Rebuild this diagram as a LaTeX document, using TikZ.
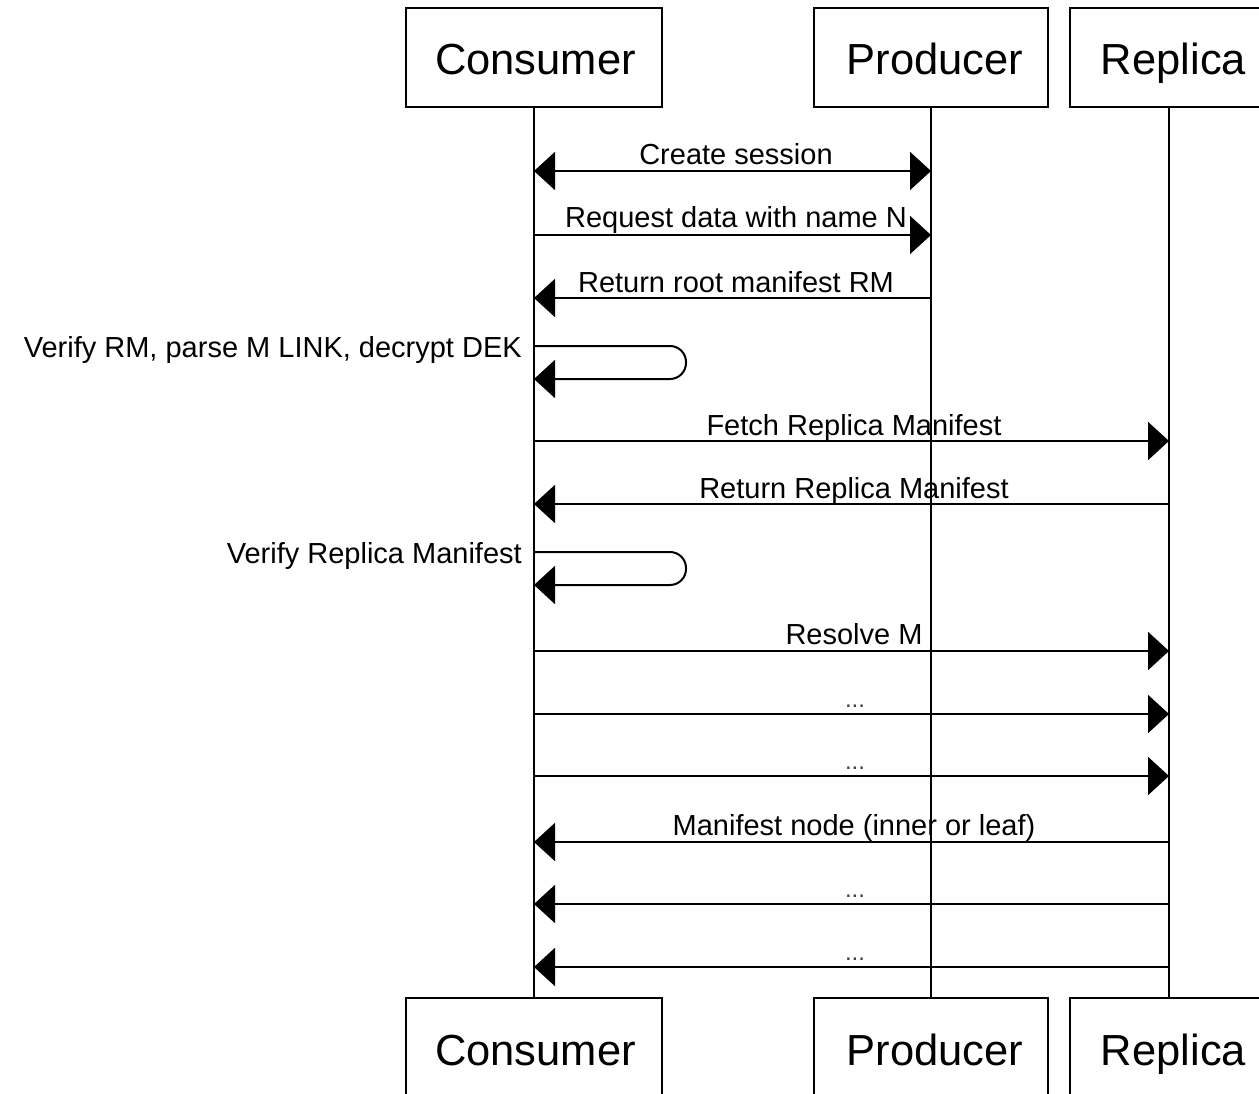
\documentclass[tikz,border=0pt]{standalone}
\usepackage{fontspec}
\setmainfont{Liberation Sans}
\usetikzlibrary{arrows.meta}
\begin{document}
\begin{tikzpicture}[x=1pt,y=-1pt,
  actor/.style={draw, line width=2pt, minimum height=99pt, inner sep=0pt, text height=35pt, text depth=0pt, font=\fontsize{43.5}{50}\selectfont},
  life/.style={line width=2pt},
  msg/.style={line width=2pt, -{Triangle[length=21pt,width=38pt]}},
  dmsg/.style={line width=2pt, {Triangle[length=21pt,width=38pt]}-{Triangle[length=21pt,width=38pt]}},
  lbl/.style={font=\fontsize{29}{32}\selectfont, anchor=base, inner sep=0pt},
  dots/.style={font=\fontsize{24}{28}\selectfont, anchor=base, inner sep=0pt, text=black!75},
  slbl/.style={font=\fontsize{29}{32}\selectfont, anchor=base east, inner sep=0pt},
]
\useasboundingbox[fill=white] (0,0) rectangle (1259,1094);
% actors
\node[actor, minimum width=256pt] (ct) at (534,57.5) {\hspace*{3pt}Consumer};
\node[actor, minimum width=234pt] (pt) at (931,57.5) {\hspace*{8pt}Producer};
\node[actor, minimum width=198pt] (rt) at (1169,57.5) {\hspace*{9pt}Replica};
\node[actor, minimum width=256pt] (cb) at (534,1047.5) {\hspace*{3pt}Consumer};
\node[actor, minimum width=234pt] (pb) at (931,1047.5) {\hspace*{8pt}Producer};
\node[actor, minimum width=198pt] (rb) at (1169,1047.5) {\hspace*{9pt}Replica};
% lifelines
\draw[life] (ct.south) -- (cb.north);
\draw[life] (pt.south) -- (pb.north);
\draw[life] (rt.south) -- (rb.north);
% message end points
\coordinate (c1) at (534,171); \coordinate (p1) at (931,171);
\coordinate (c2) at (534,235); \coordinate (p2) at (931,235);
\coordinate (c3) at (534,298); \coordinate (p3) at (931,298);
\coordinate (s1a) at (534,346); \coordinate (s1b) at (534,379);
\coordinate (c5) at (534,441); \coordinate (r5) at (1169,441);
\coordinate (c6) at (534,504); \coordinate (r6) at (1169,504);
\coordinate (s2a) at (534,552); \coordinate (s2b) at (534,585);
\coordinate (c8) at (534,651); \coordinate (r8) at (1169,651);
\coordinate (c9) at (534,714); \coordinate (r9) at (1169,714);
\coordinate (c10) at (534,776); \coordinate (r10) at (1169,776);
\coordinate (c11) at (534,842); \coordinate (r11) at (1169,842);
\coordinate (c12) at (534,904); \coordinate (r12) at (1169,904);
\coordinate (c13) at (534,967); \coordinate (r13) at (1169,967);
% messages
\draw[dmsg] (c1) -- (p1);
\node[lbl] (l1) at (736,165) {Create session};
\draw[msg] (c2) -- (p2);
\node[lbl] (l2) at (736,228) {Request data with name N};
\draw[msg] (p3) -- (c3);
\node[lbl] (l3) at (736,292) {Return root manifest RM};
\draw[msg, rounded corners=16pt] (s1a) -- (686,346) -- (686,379) -- (s1b);
\node[slbl] (l4) at (522,357) {Verify RM, parse M LINK, decrypt DEK};
\draw[msg] (c5) -- (r5);
\node[lbl] (l5) at (854,435) {Fetch Replica Manifest};
\draw[msg] (r6) -- (c6);
\node[lbl] (l6) at (854,498) {Return Replica Manifest};
\draw[msg, rounded corners=16pt] (s2a) -- (686,552) -- (686,585) -- (s2b);
\node[slbl] (l7) at (522,563) {Verify Replica Manifest};
\draw[msg] (c8) -- (r8);
\node[lbl] (l8) at (854,644) {Resolve M};
\draw[msg] (c9) -- (r9);
\node[dots] (l9) at (855,707) {...};
\draw[msg] (c10) -- (r10);
\node[dots] (l10) at (855,769) {...};
\draw[msg] (r11) -- (c11);
\node[lbl] (l11) at (854,835) {Manifest node (inner or leaf)};
\draw[msg] (r12) -- (c12);
\node[dots] (l12) at (855,897) {...};
\draw[msg] (r13) -- (c13);
\node[dots] (l13) at (855,960) {...};
\end{tikzpicture}
\end{document}
